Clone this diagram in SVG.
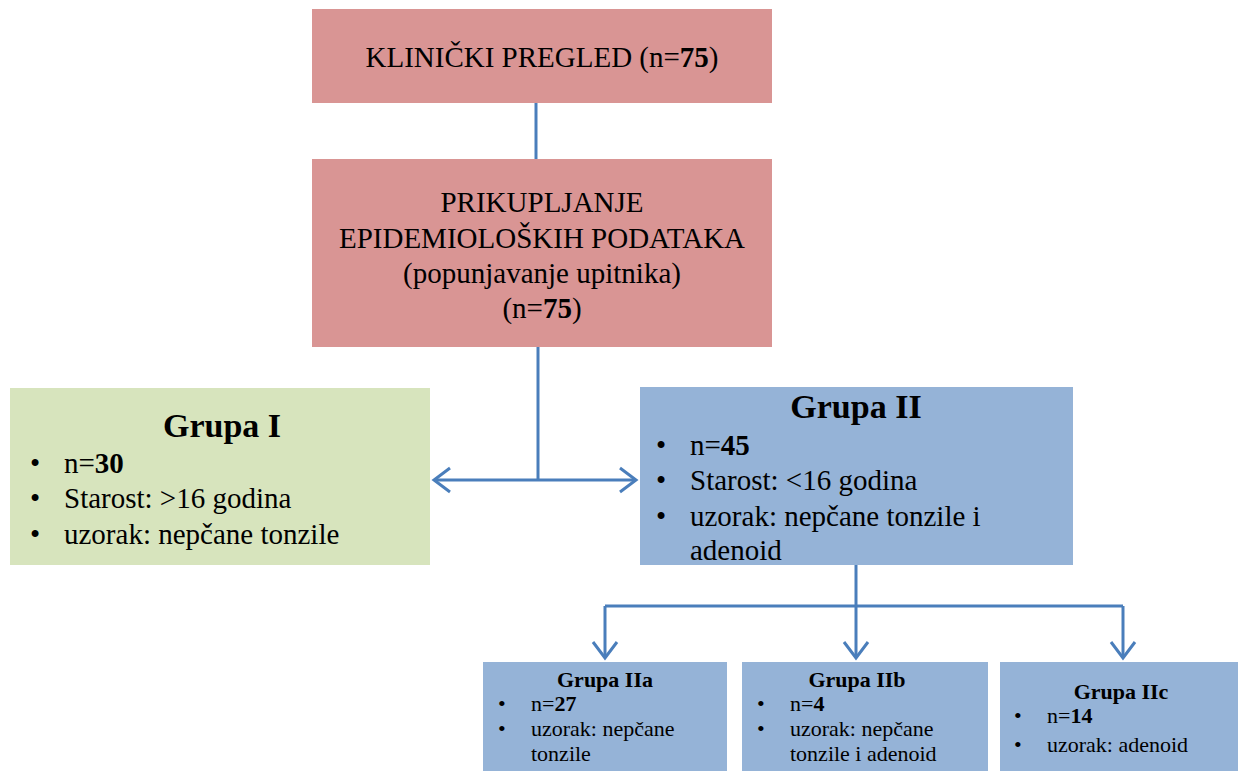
<svg xmlns="http://www.w3.org/2000/svg" width="1242" height="771" viewBox="0 0 1242 771" font-family="'Liberation Serif', 'Times New Roman', serif">
<style>
text,tspan{font-family:"Liberation Serif","Times New Roman",serif;fill:#000}
.big{font-size:29px}
.ttl{font-size:34px;font-weight:bold}
.sm{font-size:22px}
.stl{font-size:22px;font-weight:bold}
.b{font-weight:bold}
.pink{fill:#D99594}
.green{fill:#D7E4BD}
.blue{fill:#95B3D7}
.con{stroke:#4A7EBB;stroke-width:3;fill:none}
</style>
<defs>
<marker id="ah" markerUnits="userSpaceOnUse" viewBox="-20 -15 24 30" refX="0" refY="0" markerWidth="24" markerHeight="30" orient="auto">
<path d="M-16,-12 L0,0 L-16,12" fill="none" stroke="#4A7EBB" stroke-width="3"/>
</marker>
</defs>
<rect width="1242" height="771" fill="#fff"/>
<g id="connectors">
<line class="con" x1="536" y1="103" x2="536" y2="159"/>
<line class="con" x1="538" y1="347" x2="538" y2="480"/>
<line class="con" x1="538" y1="480" x2="434" y2="480" marker-end="url(#ah)"/>
<line class="con" x1="538" y1="480" x2="636" y2="480" marker-end="url(#ah)"/>
<line class="con" x1="856" y1="565" x2="856" y2="658" marker-end="url(#ah)"/>
<line class="con" x1="605" y1="606" x2="1123" y2="606"/>
<line class="con" x1="605" y1="606" x2="605" y2="658" marker-end="url(#ah)"/>
<line class="con" x1="1123" y1="606" x2="1123" y2="658" marker-end="url(#ah)"/>
</g>
<g id="klinicki">
<rect class="pink" x="312" y="9" width="460" height="94"/>
<text class="big" x="542" y="67" text-anchor="middle">KLINIČKI PREGLED (n=<tspan class="b">75</tspan>)</text>
</g>
<g id="prikupljanje">
<rect class="pink" x="312" y="159" width="460" height="188"/>
<text class="big" x="542" y="212" text-anchor="middle">PRIKUPLJANJE</text>
<text class="big" x="542" y="248" text-anchor="middle">EPIDEMIOLOŠKIH PODATAKA</text>
<text class="big" x="542" y="283" text-anchor="middle">(popunjavanje upitnika)</text>
<text class="big" x="542" y="318" text-anchor="middle">(n=<tspan class="b">75</tspan>)</text>
</g>
<g id="grupa1">
<rect class="green" x="10" y="388" width="420" height="177"/>
<text class="ttl" x="222" y="437" text-anchor="middle">Grupa I</text>
<text class="big" x="30" y="473">•</text>
<text class="big" x="64" y="473">n=<tspan class="b">30</tspan></text>
<text class="big" x="30" y="508">•</text>
<text class="big" x="64" y="508">Starost: &gt;16 godina</text>
<text class="big" x="30" y="544">•</text>
<text class="big" x="64" y="544">uzorak: nepčane tonzile</text>
</g>
<g id="grupa2">
<rect class="blue" x="640" y="387" width="433" height="178"/>
<text class="ttl" x="856" y="418" text-anchor="middle">Grupa II</text>
<text class="big" x="656" y="455">•</text>
<text class="big" x="690" y="455">n=<tspan class="b">45</tspan></text>
<text class="big" x="656" y="490">•</text>
<text class="big" x="690" y="490">Starost: &lt;16 godina</text>
<text class="big" x="656" y="526">•</text>
<text class="big" x="690" y="526">uzorak: nepčane tonzile i</text>
<text class="big" x="690" y="560">adenoid</text>
</g>
<g id="grupa2a">
<rect class="blue" x="483" y="662" width="244" height="109"/>
<text class="stl" x="605" y="687" text-anchor="middle">Grupa IIa</text>
<text class="sm" x="498" y="711">•</text>
<text class="sm" x="531" y="711">n=<tspan class="b">27</tspan></text>
<text class="sm" x="498" y="736">•</text>
<text class="sm" x="531" y="736">uzorak: nepčane</text>
<text class="sm" x="531" y="761">tonzile</text>
</g>
<g id="grupa2b">
<rect class="blue" x="742" y="662" width="246" height="109"/>
<text class="stl" x="857" y="687" text-anchor="middle">Grupa IIb</text>
<text class="sm" x="757" y="711">•</text>
<text class="sm" x="790" y="711">n=<tspan class="b">4</tspan></text>
<text class="sm" x="757" y="736">•</text>
<text class="sm" x="790" y="736">uzorak: nepčane</text>
<text class="sm" x="790" y="761">tonzile i adenoid</text>
</g>
<g id="grupa2c">
<rect class="blue" x="1000" y="662" width="238" height="109"/>
<text class="stl" x="1121" y="699" text-anchor="middle">Grupa IIc</text>
<text class="sm" x="1014" y="723">•</text>
<text class="sm" x="1047" y="723">n=<tspan class="b">14</tspan></text>
<text class="sm" x="1014" y="752">•</text>
<text class="sm" x="1047" y="752">uzorak: adenoid</text>
</g>
</svg>
